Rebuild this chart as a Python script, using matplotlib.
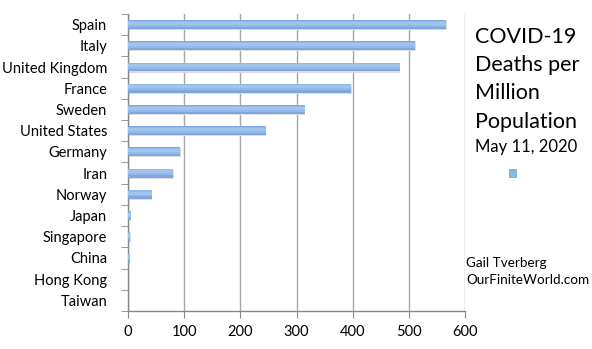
import numpy as np
import matplotlib
matplotlib.use("Agg")
import matplotlib.pyplot as plt
from matplotlib.ticker import FixedLocator

countries = ["Spain", "Italy", "United Kingdom", "France", "Sweden",
             "United States", "Germany", "Iran", "Norway", "Japan",
             "Singapore", "China", "Hong Kong", "Taiwan"]
deaths_per_million = [567, 511, 484, 397, 315, 245, 93, 81, 42, 5, 4, 3.3, 0.5, 0.3]
x_ticks = [0, 100, 200, 300, 400, 500, 600]

title_lines = ["COVID-19", "Deaths per", "Million", "Population"]
subtitle = "May 11, 2020"
credit = ["Gail Tverberg", "OurFiniteWorld.com"]

plt.rcParams['font.family'] = ['Lato', 'DejaVu Sans']

fig = plt.figure(figsize=(5.92, 3.49), dpi=100)
ax = fig.add_axes([0.2162, 0.1089, 0.5693, 0.851])

n = len(countries)
ypos = np.arange(n)[::-1]
# faint shadow, bar body, lighter upper half for a soft gradient look
ax.barh(ypos - 0.05, deaths_per_million, height=0.42, left=1.0, color='#dcdcdc',
        zorder=2)
ax.barh(ypos, deaths_per_million, height=0.42, color='#7ea7de', zorder=3)
ax.barh(ypos + 0.04, deaths_per_million, height=0.28, color='#93b8ea', zorder=4)
ax.barh(ypos + 0.06, deaths_per_million, height=0.14, color='#a3c3ef', zorder=5)

ax.set_xlim(0, 600)
ax.set_ylim(-0.5, n - 0.5)
ax.set_xticks(x_ticks)
ax.set_xticklabels([str(t) for t in x_ticks], fontsize=10.5)
ax.set_yticks(ypos)
ax.set_yticklabels(countries, fontsize=10.5)
ax.tick_params(axis='y', length=0, pad=15)
ax.yaxis.set_minor_locator(FixedLocator(np.arange(-0.5, n, 1.0)))
ax.tick_params(axis='y', which='minor', length=5, color='#888888')
ax.tick_params(axis='x', length=5, color='#888888', pad=5)

ax.grid(axis='x', color='#a6a6a6', linewidth=1.0, zorder=1)
for s in ['top', 'right']:
    ax.spines[s].set_visible(False)
for s in ['left', 'bottom']:
    ax.spines[s].set_color('#888888')
    ax.spines[s].set_linewidth(1.0)

# title block on the right
y0 = 0.877
for i, line in enumerate(title_lines):
    fig.text(0.803, y0 - i * 0.081, line, fontsize=15.5, va='baseline', ha='left')
fig.text(0.803, y0 - 4 * 0.081 + 0.012, subtitle, fontsize=12, va='baseline', ha='left')

# legend swatch
fig.patches.append(plt.Rectangle((0.859, 0.493), 0.013, 0.022, transform=fig.transFigure,
                                 facecolor='#8db4e6', edgecolor='#6f9bd6', linewidth=0.5))

fig.text(0.788, 0.245, credit[0], fontsize=9.7, va='center', ha='left')
fig.text(0.788, 0.197, credit[1], fontsize=9.7, va='center', ha='left')

fig.savefig("out.png", dpi=100)
